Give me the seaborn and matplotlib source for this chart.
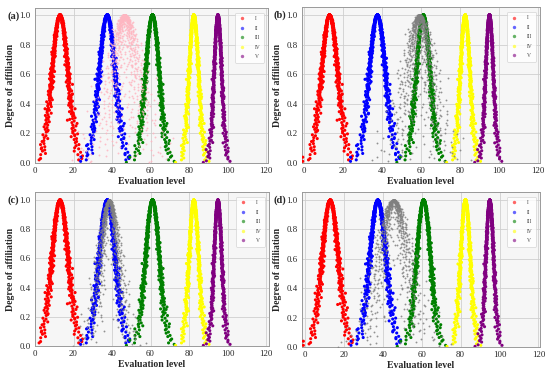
import numpy as np
import pandas as pd
import seaborn as sns
import matplotlib
matplotlib.use("Agg")
import matplotlib.pyplot as plt
from statistics import NormalDist

# ---- data (normal-cloud parameters) ----
LEVELS = ["I", "II", "III", "IV", "V"]
LEVEL_EX = [13.0, 37.5, 61.0, 82.5, 95.0]
LEVEL_EN = [4.2, 4.2, 3.6, 2.5, 2.0]
LEVEL_HE = [0.60, 0.60, 0.50, 0.38, 0.30]
LEVEL_COLORS = ["#ff0000", "#0000ff", "#008000", "#ffff00", "#800080"]

PANELS = ["(a)", "(b)", "(c)", "(d)"]
TEST_EX = [46.5, 59.0, 38.5, 45.5]
TEST_EN = [6.0, 5.5, 4.6, 6.8]
TEST_HE = [3.2, 2.8, 1.5, 2.6]
TEST_COLORS = ["#ffb6c1", "#808080", "#808080", "#808080"]

N_DROPS = 520
N_TEST = 750
X_TICKS = [0, 20, 40, 60, 80, 100, 120]
Y_TICKS = [0.0, 0.2, 0.4, 0.6, 0.8, 1.0]

ND = NormalDist()


def halton(i, b):
    f, r = 1.0, 0.0
    while i > 0:
        f /= b
        r += f * (i % b)
        i //= b
    return r


def cloud_drops(ex, en, he, n, offset, bases=(2, 3)):
    """Forward normal-cloud generator (deterministic low-discrepancy version)."""
    xs, ys = [], []
    for i in range(1, n + 1):
        k = i + offset
        z1 = ND.inv_cdf(halton(k, bases[0]))
        z2 = ND.inv_cdf(halton(k, bases[1]))
        enp = abs(en + he * z1) + 1e-6
        x = ex + enp * z2
        y = np.exp(-(x - ex) ** 2 / (2 * enp ** 2))
        xs.append(x)
        ys.append(y)
    return np.array(xs), np.array(ys)


rows = []
for li, lev in enumerate(LEVELS):
    x, y = cloud_drops(LEVEL_EX[li], LEVEL_EN[li], LEVEL_HE[li], N_DROPS,
                       137 * li + 11, bases=(5, 3))
    rows.append(pd.DataFrame({"x": x, "y": y, "level": lev}))
levels_df = pd.concat(rows, ignore_index=True)

test_rows = []
for pi, p in enumerate(PANELS):
    x, y = cloud_drops(TEST_EX[pi], TEST_EN[pi], TEST_HE[pi], N_TEST,
                       997 + 211 * pi, bases=(7, 2))
    test_rows.append(pd.DataFrame({"x": x, "y": y, "panel": p}))
test_df = pd.concat(test_rows, ignore_index=True)

sns.set_theme(style="whitegrid")
plt.rcParams["font.family"] = ["Liberation Serif", "DejaVu Serif"]

fig = plt.figure(figsize=(5.5, 3.76), dpi=100)
W, H = 550.0, 376.0
boxes = {
    "(a)": (35, 8, 268, 163),
    "(b)": (302, 7, 540, 163),
    "(c)": (35, 192, 269, 346),
    "(d)": (302, 192, 540, 347),
}
xlims = {"(a)": (0, 121), "(b)": (-1.2, 120.9), "(c)": (0, 121.5), "(d)": (-1.5, 120.8)}
ylims = {"(a)": (0, 1.047), "(b)": (0, 1.054), "(c)": (0, 1.055), "(d)": (0, 1.055)}

palette = dict(zip(LEVELS, LEVEL_COLORS))

for pi, p in enumerate(PANELS):
    l, t, r, b = boxes[p]
    ax = fig.add_axes([l / W, 1 - b / H, (r - l) / W, (b - t) / H])
    ax.set_facecolor("#f6f6f6")
    sns.scatterplot(data=levels_df, x="x", y="y", hue="level", palette=palette,
                    hue_order=LEVELS, s=5, linewidth=0, marker="o", ax=ax, zorder=3)
    sub = test_df[test_df["panel"] == p]
    sns.scatterplot(data=sub, x="x", y="y", color=TEST_COLORS[pi], s=1.8,
                    linewidth=0, marker="o", ax=ax, zorder=4, legend=False,
                    alpha=0.85)
    ax.set_xlim(*xlims[p])
    ax.set_ylim(*ylims[p])
    ax.set_xticks(X_TICKS)
    ax.set_yticks(Y_TICKS)
    ax.set_xticklabels([str(v) for v in X_TICKS])
    ax.set_yticklabels([f"{v:.1f}" for v in Y_TICKS])
    ax.tick_params(axis="both", length=0, labelsize=6.3, pad=3, colors="#222222")
    ax.grid(True, color="#cfcfcf", linewidth=0.6)
    for s in ax.spines.values():
        s.set_color("#9a9a9a")
        s.set_linewidth(0.7)
    ax.set_xlabel("Evaluation level", fontsize=7, fontweight="bold", labelpad=1.5)
    ax.set_ylabel("Degree of affiliation", fontsize=7, fontweight="bold", labelpad=3)
    leg = ax.legend(loc="upper right", fontsize=4, markerscale=1.1, frameon=True,
                    handletextpad=1.8, borderpad=0.6, labelspacing=0.8,
                    handlelength=1.2, bbox_to_anchor=(0.995, 0.985), title=None)
    leg.get_frame().set_edgecolor("#cccccc")
    leg.get_frame().set_linewidth(0.5)
    leg.get_frame().set_facecolor("white")
    leg.set_zorder(10)
    for h in leg.legend_handles:
        h.set_alpha(0.6)
    for txt in leg.get_texts():
        txt.set_color("#444444")
    fig.text((l - 28) / W, 1 - (t + 8) / H, p, fontsize=7.5, fontweight="bold",
             ha="left", va="center")

fig.savefig("out.png", dpi=100)
